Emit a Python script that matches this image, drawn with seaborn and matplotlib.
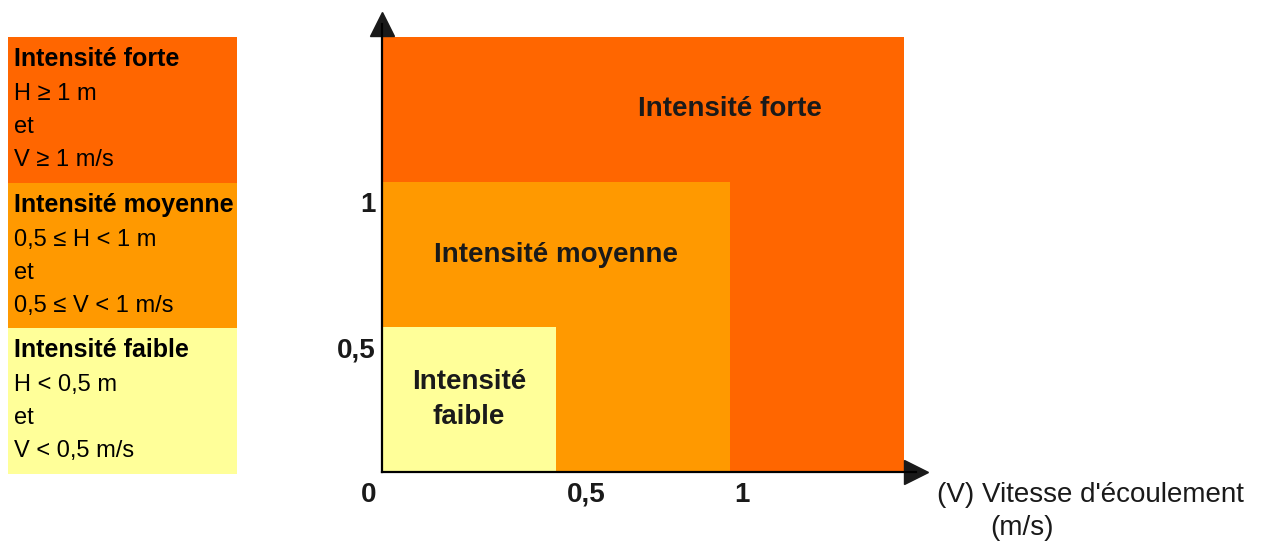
import matplotlib
matplotlib.use("Agg")
import matplotlib.pyplot as plt
import seaborn as sns

# classes (drawn from largest to smallest so they nest)
classes = ["Intensité forte", "Intensité moyenne", "Intensité faible"]
limits = [1.5, 1.0, 0.5]
colors = ["#FF6600", "#FF9900", "#FFFF99"]
label_x = [1.0, 0.5, 0.25]
label_y = [1.25, 0.75, 0.25]
plot_labels = ["Intensité forte", "Intensité moyenne", "Intensité\nfaible"]

legend_lines = [
    ["H ≥ 1 m", "et", "V ≥ 1 m/s"],
    ["0,5 ≤ H < 1 m", "et", "0,5 ≤ V < 1 m/s"],
    ["H < 0,5 m", "et", "V < 0,5 m/s"],
]

tick_values = [0, 0.5, 1]
tick_labels = ["0", "0,5", "1"]
x_label_1 = "(V) Vitesse d'écoulement"
x_label_2 = "(m/s)"

sns.set_theme(style="white")
plt.rcParams["font.family"] = ["Liberation Sans", "DejaVu Sans"]

fig = plt.figure(figsize=(12.61, 5.44), dpi=100)

# ---- main diagram
ax = fig.add_axes([382 / 1261, 72 / 544, 534 / 1261, 448 / 544])
for lim, col in zip(limits, colors):
    ax.bar(0, lim, width=lim, bottom=0, align="edge", color=col, linewidth=0)
for txt, x, y in zip(plot_labels, label_x, label_y):
    ax.text(x, y, txt, ha="center", va="center", fontsize=20,
            fontweight="bold", color="#1a1a1a", linespacing=1.45)

ax.set_xlim(0, 534 / 348)
ax.set_ylim(0, 448 / 290)
ax.set_xticks([])
ax.set_yticks([])
for s in ["top", "right"]:
    ax.spines[s].set_visible(False)
for s in ["left", "bottom"]:
    ax.spines[s].set_color("black")
    ax.spines[s].set_linewidth(1.6)
ax.patch.set_alpha(0)

# arrow heads at the ends of the axes
ax.plot(0, 1, "^k", ms=17, transform=ax.get_xaxis_transform(), clip_on=False)
ax.plot(1, 0, ">k", ms=17, transform=ax.get_yaxis_transform(), clip_on=False)

# tick labels (slightly offset like the original drawing)
x_offsets = [-13, 30, 12]
for v, lab, dx in zip(tick_values, tick_labels, x_offsets):
    ax.annotate(lab, xy=(v, 0), xytext=(dx * 0.72, -23 * 0.72),
                textcoords="offset points", ha="center", va="center",
                fontsize=20, fontweight="bold", color="#1a1a1a",
                annotation_clip=False)
for v, lab in zip(tick_values[1:], tick_labels[1:]):
    ax.annotate(lab, xy=(0, v), xytext=(-6 * 0.72, -23 * 0.72),
                textcoords="offset points", ha="right", va="center",
                fontsize=20, fontweight="bold", color="#1a1a1a",
                annotation_clip=False)

fig.text(937 / 1261, 1 - 495 / 544, x_label_1, ha="left", va="center",
         fontsize=20, color="#1a1a1a")
fig.text(990 / 1261, 1 - 528 / 544, x_label_2, ha="left", va="center",
         fontsize=20, color="#1a1a1a")

# ---- legend boxes
lg = fig.add_axes([8 / 1261, 70 / 544, 229 / 1261, 437 / 544])
n = len(classes)
for i, (name, col, lines) in enumerate(zip(classes, colors, legend_lines)):
    bottom = n - 1 - i
    lg.bar(0, 1, width=1, bottom=bottom, align="edge", color=col, linewidth=0)
    top = bottom + 1
    lg.annotate(name, xy=(0, top), xytext=(6 * 0.72, -22 * 0.72),
                textcoords="offset points", ha="left", va="center",
                fontsize=18, fontweight="bold", color="black")
    for k, line in enumerate(lines):
        lg.annotate(line, xy=(0, top), xytext=(6 * 0.72, -(57 + 33 * k) * 0.72),
                    textcoords="offset points", ha="left", va="center",
                    fontsize=17, color="black")
lg.set_xlim(0, 1)
lg.set_ylim(0, n)
lg.axis("off")

fig.savefig("out.png", dpi=100)
